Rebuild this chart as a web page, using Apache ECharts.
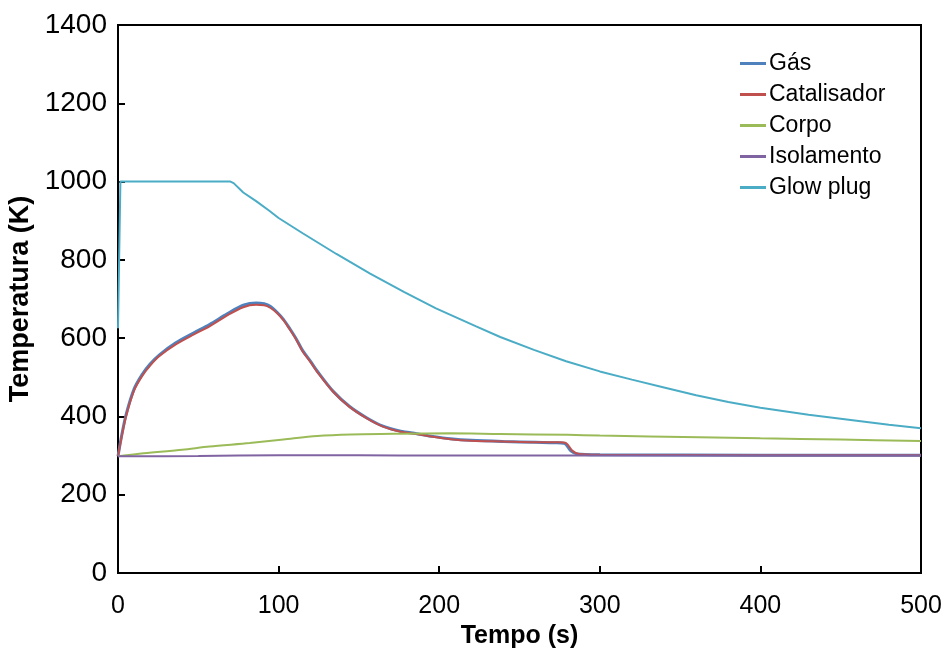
<!DOCTYPE html>
<html>
<head>
<meta charset="utf-8">
<script src="https://cdn.jsdelivr.net/npm/echarts@6/dist/echarts.min.js"></script>
<style>html,body{margin:0;padding:0;background:#fff}#c{width:946px;height:661px}</style>
</head>
<body>
<div id="c"></div>
<script>
const seriesNames = ['Gás', 'Catalisador', 'Corpo', 'Isolamento', 'Glow plug'];
const xTicks = [0, 100, 200, 300, 400, 500];
const yTicks = [0, 200, 400, 600, 800, 1000, 1200, 1400];

const gasTime = [0, 2, 5, 10, 15, 20, 26, 36, 47, 57, 68, 78, 86, 91, 95, 99, 103, 107, 111, 115, 120, 124, 134, 144, 155, 165, 176, 186, 196, 207, 220, 240, 260, 272, 278, 282, 286, 300, 400, 500];
const gasTemp = [298, 345, 404, 470, 507, 534, 558, 588, 613, 635, 662, 684, 690, 688, 681, 666, 648, 624, 598, 568, 540, 516, 464, 426, 396, 375, 362, 356, 349, 343, 339, 336, 334, 333, 331, 312, 304, 302, 301, 301];

const catTime = [0, 2, 5, 10, 15, 20, 26, 36, 47, 57, 68, 78, 86, 91, 95, 99, 103, 107, 111, 115, 120, 124, 134, 144, 155, 165, 176, 186, 196, 207, 220, 240, 260, 275, 279, 283, 287, 300, 400, 500];
const catTemp = [298, 342, 400, 466, 503, 530, 555, 584, 609, 630, 658, 679, 685, 684, 677, 664, 646, 622, 596, 566, 538, 514, 463, 425, 395, 374, 361, 355, 348, 342, 338, 336, 334, 334, 332, 312, 304, 302, 301, 301];

const corpoTime = [0, 16, 40, 57, 82, 103, 124, 145, 176, 207, 238, 280, 300, 362, 400, 450, 500];
const corpoTemp = [298, 306, 315, 323, 332, 341, 350, 354, 356, 357, 355, 353, 351, 347, 344, 341, 337];

const isoTime = [0, 50, 100, 150, 200, 300, 400, 500];
const isoTemp = [298, 299, 301, 301, 300, 300, 300, 300];

const glowTime = [0, 1.5, 70, 72, 78, 86, 94, 100, 115, 136, 157, 178, 198, 223, 238, 259, 279, 300, 320, 340, 360, 380, 400, 430, 460, 480, 500];
const glowTemp = [625, 1000, 1000, 996, 972, 950, 926, 907, 868, 815, 765, 718, 676, 630, 603, 570, 541, 515, 494, 474, 454, 437, 422, 404, 389, 379, 370];

const colors = ['#4F81BD', '#C0504D', '#9BBB59', '#8064A2', '#4BACC6'];
const times = [gasTime, catTime, corpoTime, isoTime, glowTime];
const temps = [gasTemp, catTemp, corpoTemp, isoTemp, glowTemp];

const series = seriesNames.map((n, i) => ({
  name: n,
  type: 'line',
  data: times[i].map((t, j) => [t, temps[i][j]]),
  showSymbol: false,
  symbol: 'none',
  smooth: i === 4 ? false : 0.3,
  lineStyle: { color: colors[i], width: i === 0 ? 3 : 2 },
  itemStyle: { color: colors[i] },
  z: i === 0 ? 2 : 3
}));

const chart = echarts.init(document.getElementById('c'), null, { renderer: 'canvas' });
chart.setOption({
  animation: false,
  backgroundColor: '#ffffff',
  grid: { left: 118, right: 25, top: 25, bottom: 88, show: true, borderColor: '#000', borderWidth: 2, backgroundColor: 'transparent', containLabel: false, outerBoundsMode: 'none' },
  legend: {
    orient: 'vertical',
    left: 735,
    top: 47,
    icon: 'rect',
    itemWidth: 26,
    itemHeight: 3,
    itemGap: 8,
    textStyle: { fontFamily: 'Liberation Sans, Arial, sans-serif', fontSize: 23, color: '#000', padding: [0, 0, 0, -2] },
    data: seriesNames
  },
  xAxis: {
    type: 'value',
    min: xTicks[0], max: xTicks[xTicks.length - 1], interval: 100,
    name: 'Tempo (s)', nameLocation: 'middle', nameGap: 50,
    nameTextStyle: { fontFamily: 'Liberation Sans, Arial, sans-serif', fontWeight: 'bold', fontSize: 25, color: '#000' },
    axisLine: { show: true, lineStyle: { color: '#000', width: 2 } },
    axisTick: { show: true, inside: true, length: 7, lineStyle: { color: '#000', width: 2 } },
    axisLabel: { margin: 21, fontFamily: 'Liberation Sans, Arial, sans-serif', fontSize: 25, color: '#000', formatter: v => String(v) },
    splitLine: { show: false }
  },
  yAxis: {
    type: 'value',
    min: yTicks[0], max: yTicks[yTicks.length - 1], interval: 200,
    name: 'Temperatura (K)', nameLocation: 'middle', nameGap: 77, nameRotate: 90,
    nameTextStyle: { fontFamily: 'Liberation Sans, Arial, sans-serif', fontWeight: 'bold', fontSize: 27, color: '#000' },
    axisLine: { show: true, lineStyle: { color: '#000', width: 2 } },
    axisTick: { show: true, inside: true, length: 7, lineStyle: { color: '#000', width: 2 } },
    axisLabel: { margin: 11, fontFamily: 'Liberation Sans, Arial, sans-serif', fontSize: 28, color: '#000', formatter: v => String(v) },
    splitLine: { show: false }
  },
  series: series
});
</script>
</body>
</html>
